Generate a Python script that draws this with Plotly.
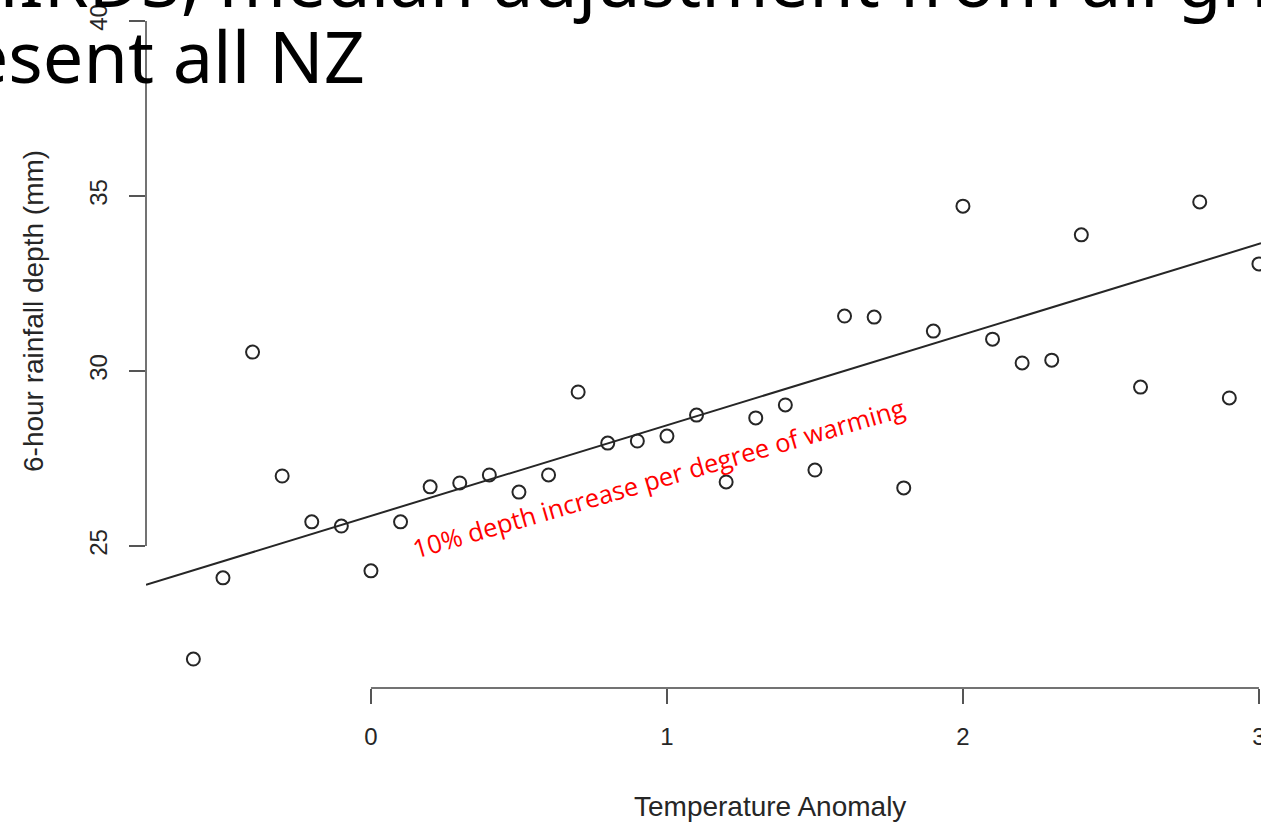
import plotly.graph_objects as go

# ---- data ----
temp_anomaly = [-0.6, -0.5, -0.4, -0.3, -0.2, -0.1, 0.0, 0.1, 0.2, 0.3, 0.4, 0.5,
                0.6, 0.7, 0.8, 0.9, 1.0, 1.1, 1.2, 1.3, 1.4, 1.5, 1.6, 1.7,
                1.8, 1.9, 2.0, 2.1, 2.2, 2.3, 2.4, 2.6, 2.8, 2.9, 3.0]
rain_depth = [21.77, 24.09, 30.54, 27.00, 25.69, 25.57, 24.29, 25.69, 26.69, 26.80, 27.03, 26.54,
              27.03, 29.40, 27.94, 28.00, 28.14, 28.74, 26.83, 28.66, 29.03, 27.17, 31.57, 31.54,
              26.66, 31.14, 34.71, 30.91, 30.23, 30.31, 33.89, 29.54, 34.83, 29.23, 33.06]
fit_intercept = 25.86
fit_slope = 2.59
x_ticks = [0, 1, 2, 3]
y_ticks = [25, 30, 35, 40]
x_range = [-0.76, 3.007]
y_range = [20.943, 40.6]

title_line1 = "HIRDS, median adjustment from all grid points to"
title_line2 = "to represent all NZ"
x_title = "Temperature Anomaly"
y_title = "6-hour rainfall depth (mm)"
note_text = "10% depth increase per degree of warming"

AX_FONT = "Liberation Sans, Arial, sans-serif"
INK = "#262626"

fig = go.Figure()

fig.add_trace(go.Scatter(
    x=x_range,
    y=[fit_intercept + fit_slope * v for v in x_range],
    mode="lines",
    line=dict(color=INK, width=2),
    hoverinfo="skip",
    showlegend=False,
))

fig.add_trace(go.Scatter(
    x=temp_anomaly, y=rain_depth,
    mode="markers",
    marker=dict(symbol="circle-open", size=13, color=INK, line=dict(width=2, color=INK)),
    showlegend=False,
))

fig.update_layout(
    width=1261, height=822,
    margin=dict(l=146, r=0, t=0, b=134),
    paper_bgcolor="white", plot_bgcolor="white",
    xaxis=dict(
        range=x_range, tickvals=x_ticks, ticktext=[str(v) for v in x_ticks],
        ticks="outside", ticklen=15, tickwidth=1.5, tickcolor="#555",
        showgrid=False, zeroline=False, showline=False,
        tickfont=dict(family=AX_FONT, size=24, color=INK),
        ticklabelstandoff=12, ticklabeloverflow="allow", automargin=False,
    ),
    yaxis=dict(
        range=y_range, tickvals=y_ticks, ticktext=[str(v) for v in y_ticks],
        ticks="outside", ticklen=16, tickwidth=1.5, tickcolor="#555",
        showgrid=False, zeroline=False, showline=False,
        tickangle=-90,
        tickfont=dict(family=AX_FONT, size=24, color=INK),
        ticklabelstandoff=12, ticklabeloverflow="allow", automargin=False,
    ),
    shapes=[
        dict(type="line", xref="paper", yref="y", x0=0, x1=0,
             y0=min(y_ticks), y1=max(y_ticks), line=dict(color="#444", width=1.5)),
        dict(type="line", xref="x", yref="paper", x0=min(x_ticks), x1=max(x_ticks),
             y0=0, y1=0, line=dict(color="#444", width=1.5)),
    ],
    annotations=[
        dict(text=x_title, xref="paper", yref="paper", x=(770 - 146) / 1115, y=(688 - 806) / 688,
             showarrow=False, xanchor="center", yanchor="middle",
             font=dict(family=AX_FONT, size=28, color=INK)),
        dict(text=y_title, xref="paper", yref="paper", x=(33 - 146) / 1115, y=(688 - 311) / 688,
             showarrow=False, xanchor="center", yanchor="middle", textangle=-90,
             font=dict(family=AX_FONT, size=28, color=INK)),
        dict(text=note_text, xref="x", yref="y", x=0.97, y=26.94,
             showarrow=False, xanchor="center", yanchor="middle", textangle=-16.2,
             font=dict(family="Open Sans, Noto Sans, sans-serif", size=25.5, color="#ff0000")),
        dict(text=title_line1, xref="paper", yref="paper", x=(-36 - 146) / 1115, y=(688 - 30) / 688,
             showarrow=False, xanchor="left", yanchor="bottom",
             font=dict(family="Noto Sans, Open Sans, sans-serif", size=72, color="black")),
        dict(text=title_line2, xref="paper", yref="paper", x=(367 - 146) / 1115, y=(688 - 106) / 688,
             showarrow=False, xanchor="right", yanchor="bottom",
             font=dict(family="Noto Sans, Open Sans, sans-serif", size=72, color="black")),
    ],
)

fig.write_html("out.html")
